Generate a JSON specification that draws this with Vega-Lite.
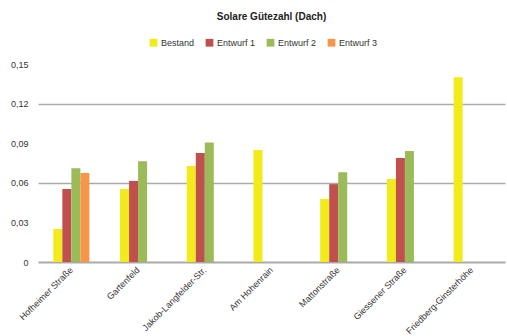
{
  "$schema": "https://vega.github.io/schema/vega-lite/v6.json",
  "width": 467,
  "height": 198,
  "autosize": {"type": "none"},
  "padding": {"left": 38, "top": 64, "right": 2, "bottom": 74},
  "background": "white",
  "config": {"view": {"stroke": null}, "font": "Liberation Sans"},
  "title": {"text": "Solare Gütezahl (Dach)", "fontSize": 10, "fontWeight": "bold", "color": "#222", "offset": 16, "anchor": "middle"},
  "data": {"values": [
    {"ort": "Hofheimer Straße", "serie": "Bestand", "wert": 0.025},
    {"ort": "Hofheimer Straße", "serie": "Entwurf 1", "wert": 0.0553},
    {"ort": "Hofheimer Straße", "serie": "Entwurf 2", "wert": 0.071},
    {"ort": "Hofheimer Straße", "serie": "Entwurf 3", "wert": 0.0674},
    {"ort": "Gartenfeld", "serie": "Bestand", "wert": 0.0553},
    {"ort": "Gartenfeld", "serie": "Entwurf 1", "wert": 0.0614},
    {"ort": "Gartenfeld", "serie": "Entwurf 2", "wert": 0.0763},
    {"ort": "Jakob-Langfelder-Str.", "serie": "Bestand", "wert": 0.0727},
    {"ort": "Jakob-Langfelder-Str.", "serie": "Entwurf 1", "wert": 0.0826},
    {"ort": "Jakob-Langfelder-Str.", "serie": "Entwurf 2", "wert": 0.0905},
    {"ort": "Am Hohenrain", "serie": "Bestand", "wert": 0.0848},
    {"ort": "Mattonstraße", "serie": "Bestand", "wert": 0.0477},
    {"ort": "Mattonstraße", "serie": "Entwurf 1", "wert": 0.059},
    {"ort": "Mattonstraße", "serie": "Entwurf 2", "wert": 0.068},
    {"ort": "Giessener Straße", "serie": "Bestand", "wert": 0.0629},
    {"ort": "Giessener Straße", "serie": "Entwurf 1", "wert": 0.0788},
    {"ort": "Giessener Straße", "serie": "Entwurf 2", "wert": 0.084},
    {"ort": "Friedberg-Ginsterhöhe", "serie": "Bestand", "wert": 0.140}
  ]},
  "mark": {"type": "bar"},
  "encoding": {
    "x": {
      "field": "ort", "type": "nominal", "sort": null,
      "scale": {"paddingInner": 0.46, "paddingOuter": 0.23},
      "axis": {"title": null, "labelAngle": -45, "labelAlign": "right", "labelBaseline": "middle", "labelFontSize": 9, "labelColor": "#333", "ticks": false, "domainColor": "#aaaaaa", "domainWidth": 2, "labelPadding": 6}
    },
    "xOffset": {"field": "serie", "type": "nominal", "scale": {"domain": ["Bestand", "Entwurf 1", "Entwurf 2", "Entwurf 3"], "paddingInner": 0, "paddingOuter": 0}},
    "y": {
      "field": "wert", "type": "quantitative",
      "scale": {"domain": [0, 0.15], "nice": false},
      "axis": {
        "title": null, "values": [0, 0.03, 0.06, 0.09, 0.12, 0.15], "domain": false, "ticks": false,
        "labelFontSize": 9, "labelColor": "#333", "labelPadding": 10,
        "labelExpr": "datum.value == 0 ? '0' : replace(format(datum.value, '.2f'), '.', ',')",
        "gridColor": "#aaaaaa", "gridWidth": 1.5,
        "gridOpacity": {"condition": {"test": "datum.value == 0.06 || datum.value == 0.12", "value": 1}, "value": 0}
      }
    },
    "color": {
      "field": "serie", "type": "nominal",
      "scale": {"domain": ["Bestand", "Entwurf 1", "Entwurf 2", "Entwurf 3"], "range": ["#F2EA1A", "#C0504D", "#9BBB59", "#F79646"]},
      "legend": {"title": null, "orient": "none", "legendX": 111, "legendY": -26, "direction": "horizontal", "symbolType": "square", "symbolSize": 60, "symbolStrokeWidth": 0, "labelFontSize": 9, "labelColor": "#333", "columnPadding": 10, "labelOffset": 3}
    }
  }
}
